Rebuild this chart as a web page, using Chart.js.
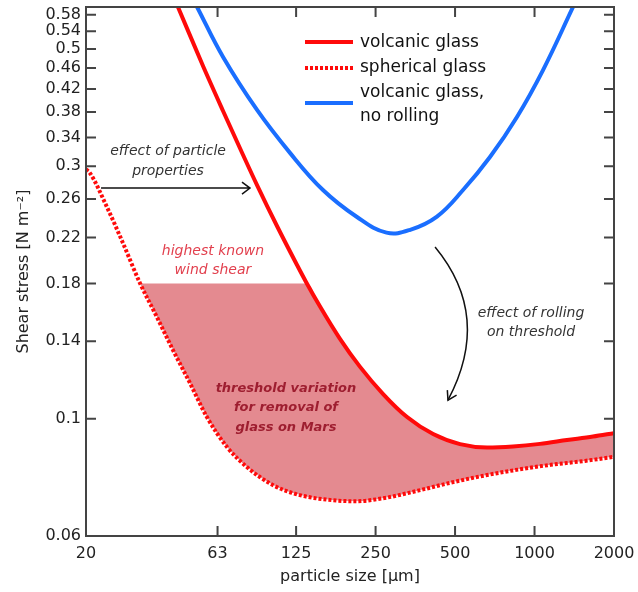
<!DOCTYPE html>
<html>
<head>
<meta charset="utf-8">
<script src="https://cdn.jsdelivr.net/npm/chart.js@4.4.1/dist/chart.umd.min.js"></script>
<style>
  html, body { margin: 0; padding: 0; background: #fff; }
</style>
</head>
<body>
<canvas id="myChart"></canvas>
<script>
// particle size [um] and shear stress [N m^-2]
const volcanicSize = [40, 44.6, 55.5, 66.1, 78.7, 88.9, 105.8, 126, 136.3, 154, 183, 218, 267, 329, 413, 522, 661, 829, 1049, 1327, 1665, 2000];
const volcanicStress = [0.68, 0.6, 0.4641, 0.3816, 0.3151, 0.2764, 0.2313, 0.1952, 0.1813, 0.1629, 0.1417, 0.1254, 0.1113, 0.1007, 0.0935, 0.0895, 0.0882, 0.0886, 0.0896, 0.0911, 0.0925, 0.0939];

const sphericalSize = [20, 20.7, 24, 27.6, 32, 37.1, 42.7, 49.5, 57.4, 68.4, 81.4, 102, 129, 172, 210, 271, 362, 483, 649, 866, 1154, 1553, 2000];
const sphericalStress = [0.296, 0.2913, 0.2513, 0.2148, 0.1805, 0.1557, 0.1348, 0.1168, 0.1007, 0.0884, 0.081, 0.0749, 0.0717, 0.0701, 0.0698, 0.0708, 0.0731, 0.0757, 0.0781, 0.0801, 0.0818, 0.0832, 0.0847];

const noRollSize = [48, 52.7, 66.1, 88.9, 118.5, 158, 212.6, 275, 338, 427, 536, 678, 858, 1077, 1399, 1500];
const noRollStress = [0.656, 0.6, 0.4826, 0.3833, 0.318, 0.2705, 0.2405, 0.2247, 0.2275, 0.241, 0.2705, 0.3123, 0.3718, 0.456, 0.6, 0.646];

const maxWindShear = 0.18;     // highest known wind shear
const capSize = 137.5;         // where volcanic curve crosses 0.18

const xTicks = [20, 63, 125, 250, 500, 1000, 2000];
const yTicks = [0.06, 0.1, 0.14, 0.18, 0.22, 0.26, 0.3, 0.34, 0.38, 0.42, 0.46, 0.5, 0.54, 0.58];

const pts = (xs, ys) => xs.map((x, i) => ({ x: x, y: ys[i] }));

// fill region: capped by highest wind shear, bounded by volcanic glass curve
const capPoints = [{ x: 20, y: maxWindShear }, { x: capSize, y: maxWindShear }]
  .concat(pts(volcanicSize, volcanicStress).filter(p => p.x > capSize));

const RED = '#ff0a0a';
const BLUE = '#1a6eff';
const FONT = "'DejaVu Sans', Arial, sans-serif";

// frame, inward ticks, legend and notes
const extras = {
  id: 'extras',
  afterDraw(chart) {
    const ctx = chart.ctx;
    const a = chart.chartArea;
    const xs = chart.scales.x, ys = chart.scales.y;
    const X = v => xs.getPixelForValue(v);
    const Y = v => ys.getPixelForValue(v);

    ctx.save();
    ctx.strokeStyle = '#444';
    ctx.lineWidth = 2;
    ctx.strokeRect(a.left, a.top, a.right - a.left, a.bottom - a.top);
    ctx.beginPath();
    xTicks.slice(1, -1).forEach(t => {
      ctx.moveTo(X(t), a.bottom); ctx.lineTo(X(t), a.bottom - 10);
      ctx.moveTo(X(t), a.top); ctx.lineTo(X(t), a.top + 10);
    });
    yTicks.forEach(t => {
      ctx.moveTo(a.left, Y(t)); ctx.lineTo(a.left + 10, Y(t));
      ctx.moveTo(a.right, Y(t)); ctx.lineTo(a.right - 10, Y(t));
    });
    ctx.stroke();

    // legend
    const lx = a.left + 219, lx2 = a.left + 267, tx = a.left + 274;
    ctx.lineWidth = 4;
    ctx.strokeStyle = RED;
    ctx.beginPath(); ctx.moveTo(lx, 42); ctx.lineTo(lx2, 42); ctx.stroke();
    ctx.setLineDash([3, 2]);
    ctx.beginPath(); ctx.moveTo(lx, 68); ctx.lineTo(lx2, 68); ctx.stroke();
    ctx.setLineDash([]);
    ctx.strokeStyle = BLUE;
    ctx.beginPath(); ctx.moveTo(lx, 103); ctx.lineTo(lx2, 103); ctx.stroke();
    ctx.fillStyle = '#111';
    ctx.font = '17px ' + FONT;
    ctx.textBaseline = 'middle';
    ctx.textAlign = 'left';
    ctx.fillText('volcanic glass', tx, 43);
    ctx.fillText('spherical glass', tx, 68);
    ctx.fillText('volcanic glass,', tx, 93);
    ctx.fillText('no rolling', tx, 117);

    // notes
    ctx.textAlign = 'center';
    ctx.font = 'italic 14px ' + FONT;
    ctx.fillStyle = '#333';
    ctx.fillText('effect of particle', X(40.9), Y(0.32));
    ctx.fillText('properties', X(40.9), Y(0.293));
    ctx.fillText('effect of rolling', X(970), Y(0.158));
    ctx.fillText('on threshold', X(970), Y(0.1458));
    ctx.fillStyle = '#e2404e';
    ctx.fillText('highest known', X(60.5), Y(0.2074));
    ctx.fillText('wind shear', X(60.5), Y(0.1909));
    ctx.fillStyle = '#9e1e30';
    ctx.font = 'italic bold 13px ' + FONT;
    ctx.fillText('threshold variation', X(114.4), Y(0.1138));
    ctx.fillText('for removal of', X(114.4), Y(0.1047));
    ctx.fillText('glass on Mars', X(114.4), Y(0.096));

    // arrows
    ctx.strokeStyle = '#111';
    ctx.lineWidth = 1.5;
    const ay = Y(0.2728), ax0 = X(22.8), ax1 = X(83.6);
    ctx.beginPath(); ctx.moveTo(ax0, ay); ctx.lineTo(ax1, ay);
    ctx.moveTo(ax1 - 8, ay - 6); ctx.lineTo(ax1, ay); ctx.lineTo(ax1 - 8, ay + 6);
    ctx.stroke();

    const p0 = [X(420), Y(0.2111)], c = [X(693), Y(0.156)], p1 = [X(470), Y(0.1084)];
    ctx.beginPath(); ctx.moveTo(p0[0], p0[1]);
    ctx.quadraticCurveTo(c[0], c[1], p1[0], p1[1]);
    ctx.stroke();
    const ang = Math.atan2(p1[1] - c[1], p1[0] - c[0]);
    ctx.beginPath();
    ctx.moveTo(p1[0] - 10 * Math.cos(ang - 0.55), p1[1] - 10 * Math.sin(ang - 0.55));
    ctx.lineTo(p1[0], p1[1]);
    ctx.lineTo(p1[0] - 10 * Math.cos(ang + 0.55), p1[1] - 10 * Math.sin(ang + 0.55));
    ctx.stroke();
    ctx.restore();
  }
};

const data = {
  datasets: [{
    label: 'volcanic glass, no rolling',
    data: pts(noRollSize, noRollStress),
    borderColor: BLUE,
    borderWidth: 4,
    tension: 0.4,
    cubicInterpolationMode: 'default',
  }, {
    label: 'volcanic glass',
    data: pts(volcanicSize, volcanicStress),
    borderColor: RED,
    borderWidth: 4,
  }, {
    label: 'spherical glass',
    data: pts(sphericalSize, sphericalStress),
    borderColor: RED,
    borderWidth: 4,
    borderDash: [3, 2],
  }, {
    label: 'threshold variation',
    data: capPoints,
    borderWidth: 0,
    borderColor: 'rgba(0,0,0,0)',
    fill: { target: 2, above: '#e48a90', below: 'rgba(0,0,0,0)' },
  }],
};

const config = {
  type: 'line',
  data: data,
  options: {
    responsive: false,
    animation: false,
    events: [],
    layout: { padding: { top: 7, right: 24, left: 10, bottom: 0 } },
    elements: {
      point: { radius: 0 },
      line: { cubicInterpolationMode: 'monotone', fill: false },
    },
    plugins: {
      legend: { display: false },
      tooltip: { enabled: false },
    },
    scales: {
      x: {
        type: 'logarithmic',
        min: 20,
        max: 2000,
        grid: { display: false, drawTicks: false },
        border: { display: false },
        afterBuildTicks: s => { s.ticks = xTicks.map(v => ({ value: v })); },
        afterFit: s => { s.height = 56; s.paddingLeft = 0; s.paddingRight = 0; },
        ticks: {
          autoSkip: false,
          maxRotation: 0,
          padding: 8,
          color: '#222',
          font: { family: FONT, size: 16 },
          callback: v => String(v),
        },
        title: {
          display: true,
          text: 'particle size [\u03bcm]',
          color: '#222',
          font: { family: FONT, size: 16 },
          padding: { top: 0, bottom: 6 },
        },
      },
      y: {
        type: 'logarithmic',
        min: 0.06,
        max: 0.6,
        grid: { display: false, drawTicks: false },
        border: { display: false },
        afterBuildTicks: s => { s.ticks = yTicks.map(v => ({ value: v })); },
        afterFit: s => { s.width = 76; s.paddingTop = 0; s.paddingBottom = 0; },
        ticks: {
          autoSkip: false,
          padding: 5,
          color: '#222',
          font: { family: FONT, size: 16 },
          callback: v => String(v),
        },
        title: {
          display: true,
          text: 'Shear stress [N m\u207b\u00b2]',
          color: '#222',
          font: { family: FONT, size: 16 },
          padding: { bottom: 0 },
        },
      },
    },
  },
  plugins: [extras],
};

const canvas = document.getElementById('myChart');
canvas.width = 638;
canvas.height = 592;
const myChart = new Chart(canvas, config);
</script>
</body>
</html>
